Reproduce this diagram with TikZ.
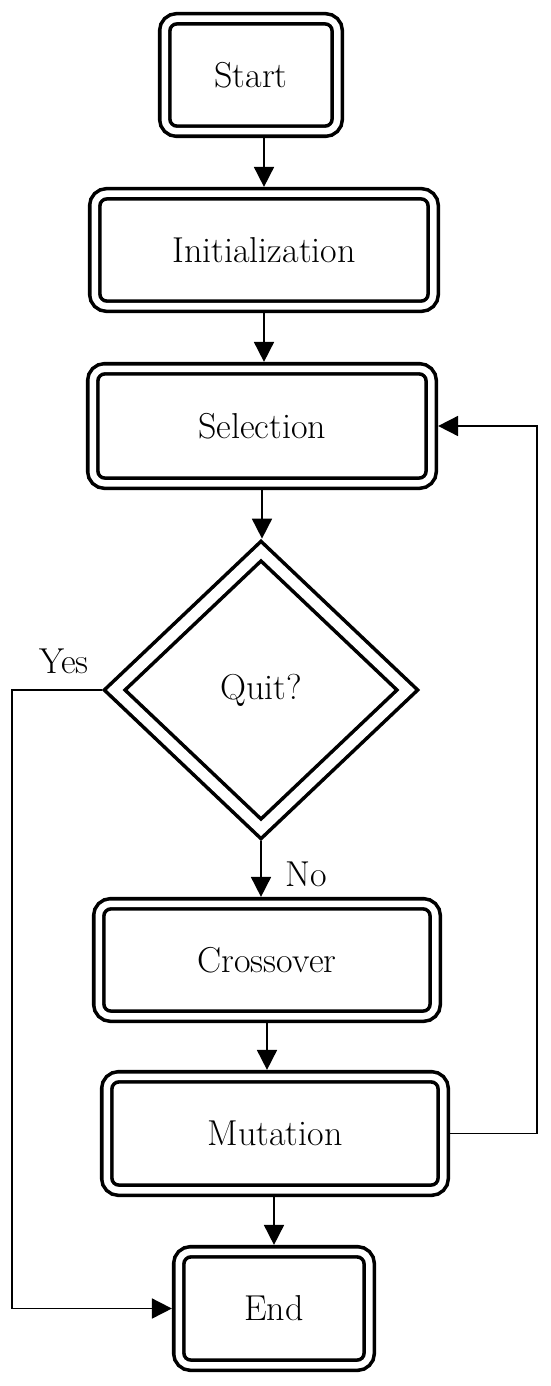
\documentclass[tikz,border=0pt]{standalone}
\usepackage{tikz}
\usetikzlibrary{arrows.meta,shapes.geometric,calc}

\begin{document}
\begin{tikzpicture}[
    every node/.style={font=\fontsize{20.5}{24}\selectfont},
    box/.style={draw,double,line width=0.072cm,double distance=0.13cm,
                rounded corners=0.24cm,inner sep=0pt,outer sep=0.137cm},
    cond/.style={draw,double,diamond,line width=0.072cm,double distance=0.21cm,
                 inner sep=0pt,outer sep=0.177cm,minimum width=6.0cm,minimum height=5.7cm},
    arr/.style={-{Triangle[length=0.4cm,width=0.4cm]},line width=0.035cm},
  ]
  \useasboundingbox (0,0) rectangle (11,-27.72);

  % steps of the loop
  \node[box,minimum width=3.45cm,minimum height=2.25cm] (start) at (5.02,-1.50) {Start};
  \node[box,minimum width=6.77cm,minimum height=2.25cm] (init) at (5.28,-5.00) {Initialization};
  \node[box,minimum width=6.77cm,minimum height=2.29cm] (sel) at (5.24,-8.52) {Selection};
  \node[cond] (quit) at (5.22,-13.80) {Quit?};
  \node[box,minimum width=6.73cm,minimum height=2.25cm] (cross) at (5.34,-19.20) {Crossover};
  \node[box,minimum width=6.73cm,minimum height=2.27cm] (mut) at (5.50,-22.67) {Mutation};
  \node[box,minimum width=3.81cm,minimum height=2.27cm] (end) at (5.48,-26.17) {End};

  \node (yes) at (1.28,-13.22) {Yes};
  \node (no) at (6.12,-17.48) {No};

  \coordinate (yturn) at (0.24,-26.17);
  \coordinate (fturn) at (10.74,-8.52);

  \draw[arr] (start.south -| init.north) -- (init.north);
  \draw[arr] (init.south) -- (init.south |- sel.north);
  \draw[arr] (sel.south) -- (sel.south |- quit.north);
  \draw[arr] (quit.south) -- (quit.south |- cross.north);
  \draw[arr] (cross.south) -- (cross.south |- mut.north);
  \draw[arr] (end.north |- mut.south) -- (end.north);

  % yes branch and feedback loop
  \draw[arr] (quit.west) -| (yturn) -- (end.west);
  \draw[arr] (mut.east) -| (fturn) -- (sel.east);
\end{tikzpicture}
\end{document}
